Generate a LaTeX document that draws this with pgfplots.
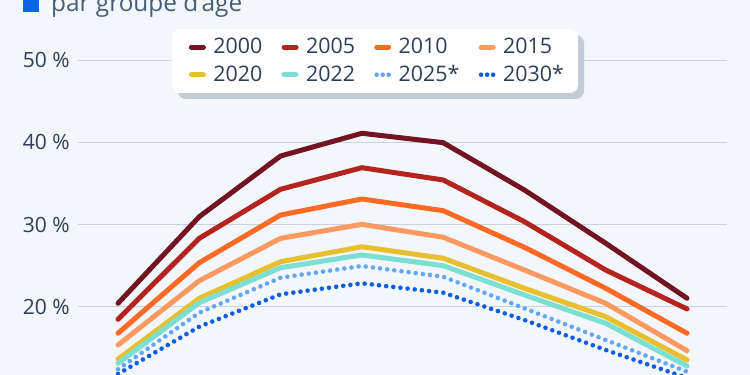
\documentclass[border=0pt]{standalone}
\usepackage{fontspec}
\setmainfont{Open Sans}
\usepackage{pgfplots}
\pgfplotsset{compat=1.18}
\definecolor{bg}{HTML}{F3F6FA}
\definecolor{gridc}{HTML}{CBD2DA}
\definecolor{tickc}{HTML}{2E3F55}
\definecolor{titlec}{HTML}{4A5D78}
\definecolor{sqblue}{HTML}{0A63E8}
\definecolor{shadowc}{HTML}{C3CBD5}
\definecolor{cA}{HTML}{731423}
\definecolor{cB}{HTML}{B5231F}
\definecolor{cC}{HTML}{FD6A25}
\definecolor{cD}{HTML}{FC9A62}
\definecolor{cE}{HTML}{E8BF2F}
\definecolor{cF}{HTML}{7DDED2}
\definecolor{cG}{HTML}{63A8F7}
\definecolor{cH}{HTML}{0A5FE0}
\pgfplotsset{dot legend/.style={legend image code/.code={\draw[##1, dash pattern=on 0pt off 3pt] (0pt,0pt) -- (6pt,0pt);}}}
\begin{document}
\begin{tikzpicture}
\begin{axis}[
  width=375pt, height=187.5pt, scale only axis,
  xmin=-1.452, xmax=7.775, ymin=11.74, ymax=57.29,
  axis line style={draw=none},
  xtick=\empty, ytick=\empty,
  axis background/.style={fill=bg},
  clip=true,
  legend columns=4,
  legend cell align=left,
  legend image code/.code={\draw[#1] (0pt,0pt) -- (6pt,0pt);},
  legend style={at={(188.5/750,1-33.4/375)}, anchor=north west, draw=none, fill=none,
    inner sep=0pt, font=\fontsize{10.7}{12}\selectfont, text=tickc,
    nodes={inner xsep=0pt, inner ysep=2pt}, row sep=0.4pt,
    /tikz/every odd column/.append style={column sep=3.75pt},
    /tikz/every even column/.append style={column sep=9.6pt}},
  solid line/.style={line width=2.5pt, line cap=round, line join=round},
  dot line/.style={line width=2.3pt, line cap=round, dash pattern=on 0pt off 3.6pt},
]
\foreach \v in {20,30,40,50}{
  \edef\tmp{\noexpand\draw[gridc, line width=0.5pt] (axis cs:-0.492,\v) -- (axis cs:7.492,\v);}\tmp
}
\addplot[solid line, cA] coordinates {(0,20.45)(1,30.97)(2,38.34)(3,41.10)(4,39.96)(5,34.21)(6,27.74)(7,21.06)};
\addlegendentry{2000}
\addplot[solid line, cB] coordinates {(0,18.51)(1,28.34)(2,34.30)(3,36.92)(4,35.43)(5,30.36)(6,24.49)(7,19.76)};
\addlegendentry{2005}
\addplot[solid line, cC] coordinates {(0,16.81)(1,25.38)(2,31.17)(3,33.12)(4,31.70)(5,27.25)(6,22.27)(7,16.81)};
\addlegendentry{2010}
\addplot[solid line, cD] coordinates {(0,15.38)(1,23.19)(2,28.34)(3,30.04)(4,28.47)(5,24.49)(6,20.45)(7,14.69)};
\addlegendentry{2015}
\addplot[solid line, cE] coordinates {(0,13.65)(1,21.06)(2,25.50)(3,27.32)(4,25.92)(5,22.27)(6,18.82)(7,13.56)};
\addlegendentry{2020}
\addplot[solid line, cF] coordinates {(0,13.16)(1,20.52)(2,24.77)(3,26.32)(4,25.02)(5,21.46)(6,18.02)(7,12.83)};
\addlegendentry{2022}
\addplot[dot line, cG, dot legend] coordinates {(0,12.43)(1,19.31)(2,23.56)(3,24.98)(4,23.68)(5,19.84)(6,15.99)(7,12.14)};
\addlegendentry{2025*}
\addplot[dot line, cH, dot legend] coordinates {(0,11.86)(1,17.61)(2,21.54)(3,22.88)(4,21.74)(5,18.42)(6,14.78)(7,11.38)};
\addlegendentry{2030*}
\foreach \v in {20,30,40,50}{
  \edef\tmp{\noexpand\node[anchor=east, inner sep=0pt, font=\noexpand\fontsize{10.5}{12}\noexpand\selectfont, text=tickc] at (axis cs:-0.492,\v) [xshift=-4pt] {\v\noexpand\ \noexpand\%};}\tmp
}
% legend box with shadow
\fill[shadowc, rounded corners=4pt] (axis description cs:178/750,1-35/375) rectangle (axis description cs:584/750,1-99/375);
\fill[white, rounded corners=4pt] (axis description cs:172/750,1-29/375) rectangle (axis description cs:578/750,1-93/375);
% title
\fill[sqblue] (axis description cs:0.0303,0.9688) rectangle (axis description cs:0.0524,1.03);
\node[anchor=base west, inner sep=0pt, font=\fontsize{12.2}{14}\selectfont, text=titlec] at (axis description cs:0.0676,0.9688) {par groupe d\char"0027âge};
\end{axis}
\pgfresetboundingbox
\path[use as bounding box] (current axis.south west) rectangle (current axis.north east);
\end{tikzpicture}
\end{document}
